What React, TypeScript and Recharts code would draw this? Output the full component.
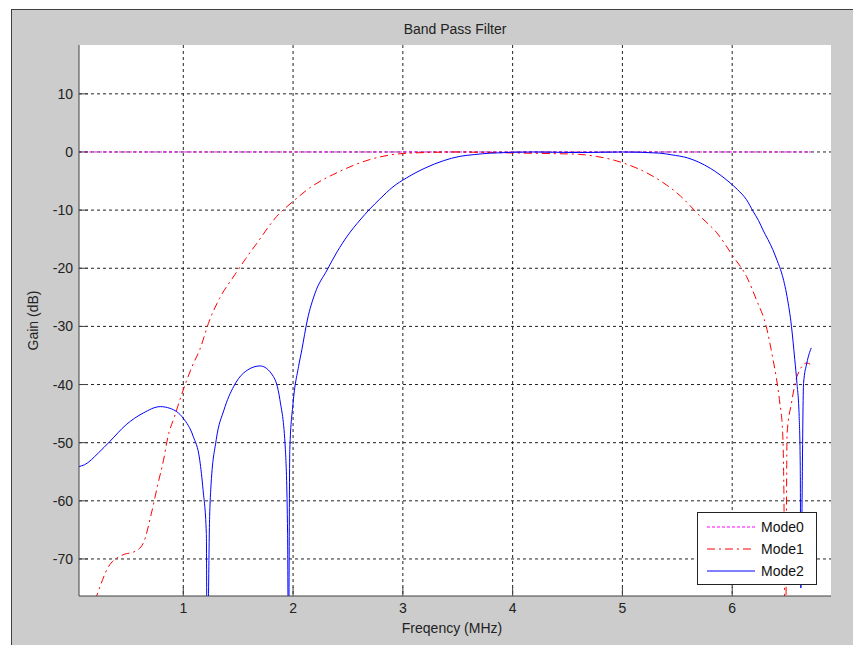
import React from "react";
import {
  LineChart,
  Line,
  XAxis,
  YAxis,
  CartesianGrid,
} from "recharts";

// x ticks (MHz) and y ticks (dB)
const freqTicks = [1, 2, 3, 4, 5, 6];
const gainTicks = [-70, -60, -50, -40, -30, -20, -10, 0, 10];

// Mode0: flat all-pass
const mode0Freq = [0.05, 6.72];
const mode0Gain = [0, 0];

// Mode1: wide band pass, dash-dot red
const mode1Freq = [
  0.05, 0.21, 0.32, 0.45, 0.56, 0.635, 0.71, 0.77, 0.82, 0.86, 0.92, 1.0, 1.08,
  1.15, 1.24, 1.33, 1.47, 1.57, 1.67, 1.85, 2.0, 2.15, 2.43, 2.7, 2.95, 3.2,
  3.5, 3.8, 4.1, 4.4, 4.6, 4.76, 5.01, 5.28, 5.53, 5.71, 5.86, 6.01, 6.13, 6.22,
  6.31, 6.37, 6.4, 6.43, 6.46, 6.47, 6.485, 6.5, 6.54, 6.59, 6.68, 6.71,
];
const mode1Gain = [
  -86, -76.4, -71.3, -69.3, -68.7, -67.3, -62.1, -57, -53, -49, -45.5, -40.9,
  -36.9, -34, -28.9, -25.2, -21.1, -18.3, -15.7, -11.1, -8.5, -6.2, -3.3, -1.3,
  -0.35, -0.1, 0, -0.1, -0.2, -0.3, -0.4, -0.75, -1.9, -4.2, -7.6, -11.1,
  -13.9, -18, -21.4, -25.4, -30, -35.5, -38.6, -42.6, -48.4, -57, -90, -48.4,
  -43.2, -38.6, -36.3, -36.5,
];

// Mode2: narrow band pass with stopband notches, solid blue
const mode2Freq = [
  0.05, 0.1, 0.225, 0.33, 0.48, 0.635, 0.79, 0.88, 1.0, 1.09, 1.15, 1.18, 1.21,
  1.217, 1.24, 1.25, 1.3, 1.37, 1.46, 1.55, 1.7, 1.82, 1.88, 1.93, 1.95, 1.958,
  1.97, 2.0, 2.05, 2.08, 2.13, 2.2, 2.31, 2.4, 2.5, 2.61, 2.7, 2.79, 2.91,
  3.03, 3.21, 3.37, 3.52, 3.65, 3.8, 4.2, 4.6, 5.0, 5.34, 5.45, 5.59, 5.8,
  5.98, 6.05, 6.13, 6.19, 6.24, 6.28, 6.37, 6.41, 6.45, 6.5, 6.54, 6.57, 6.59,
  6.61, 6.62, 6.625, 6.65, 6.68, 6.72,
];
const mode2Gain = [
  -54.1, -53.8, -51.8, -49.8, -46.9, -44.9, -43.8, -44.1, -45.8, -48.9, -53,
  -58.1, -65.6, -90, -62.7, -58.1, -49.5, -44.4, -40.3, -38, -36.8, -38.6,
  -42.6, -51.2, -65.6, -90, -51.2, -43.2, -36.9, -34, -28.9, -24.3, -20.3,
  -17.2, -14.3, -11.7, -9.8, -8.1, -6.0, -4.5, -2.7, -1.5, -0.75, -0.45, -0.2,
  0, -0.1, 0, -0.2, -0.5, -1.0, -2.8, -5.3, -6.5, -8.2, -10.2, -11.8, -13.4,
  -16.8, -18.7, -20.8, -24.9, -30, -35.7, -39.8, -45.5, -54.1, -75, -39.8,
  -36.3, -33.7,
];

const toPoints = (f: number[], g: number[]) =>
  f.map((x, i) => ({ f: x, g: g[i] }));

const series = [
  { name: "Mode0", data: toPoints(mode0Freq, mode0Gain), color: "#ff00ff", dash: "3 2" },
  { name: "Mode1", data: toPoints(mode1Freq, mode1Gain), color: "#ff0000", dash: "8 4 2 4" },
  { name: "Mode2", data: toPoints(mode2Freq, mode2Gain), color: "#0000ff", dash: undefined },
];

const FONT = "'Liberation Sans', Arial, sans-serif";
const tickStyle = { fontSize: 14, fill: "#222", fontFamily: FONT };

function FilterLegend() {
  const rows = [14, 36, 58];
  return (
    <div
      style={{
        position: "absolute",
        left: 697,
        top: 512,
        width: 120,
        height: 73,
        boxSizing: "border-box",
        border: "1px solid #222",
        background: "#fff",
      }}
    >
      <svg width={118} height={71}>
        {series.map((s, i) => (
          <g key={s.name}>
            <line
              x1={9}
              x2={57}
              y1={rows[i]}
              y2={rows[i]}
              stroke={s.color}
              strokeDasharray={s.dash}
            />
            <text
              x={63}
              y={rows[i]}
              dominantBaseline="central"
              fontSize={14}
              fontFamily={FONT}
              fill="#111"
            >
              {s.name}
            </text>
          </g>
        ))}
      </svg>
    </div>
  );
}

export default function App() {
  return (
    <div
      style={{
        position: "absolute",
        left: 0,
        top: 0,
        width: 853,
        height: 645,
        background: "#fff",
        overflow: "hidden",
      }}
    >
      <div
        style={{
          position: "absolute",
          left: 11,
          top: 9,
          width: 842,
          height: 636,
          boxSizing: "border-box",
          background: "#cccccc",
          borderTop: "1px solid #404040",
          borderLeft: "1px solid #404040",
        }}
      />
      <div
        style={{
          position: "absolute",
          left: 79,
          width: 752,
          top: 21,
          textAlign: "center",
          fontFamily: FONT,
          fontSize: 14,
          lineHeight: "16px",
          color: "#222",
        }}
      >
        Band Pass Filter
      </div>
      <div style={{ position: "absolute", left: 0, top: 0 }}>
        <LineChart
          width={853}
          height={645}
          margin={{ top: 45, right: 22, bottom: 19, left: 19 }}
        >
          <CartesianGrid
            fill="#ffffff"
            stroke="#222"
            strokeDasharray="3 3"
            syncWithTicks
          />
          <XAxis
            dataKey="f"
            type="number"
            domain={[0.05, 6.9]}
            ticks={freqTicks}
            allowDataOverflow
            height={30}
            tickSize={-9}
            tickMargin={16}
            tick={tickStyle}
            axisLine={{ stroke: "#404040" }}
            tickLine={{ stroke: "#404040" }}
            label={{
              value: "Freqency (MHz)",
              position: "bottom",
              offset: -3,
              dx: -3,
              style: { fontSize: 14, fill: "#222", fontFamily: FONT },
            }}
          />
          <YAxis
            type="number"
            domain={[-76.37, 18.4]}
            ticks={gainTicks}
            allowDataOverflow
            width={60}
            tickSize={-9}
            tickMargin={15}
            tick={tickStyle}
            axisLine={{ stroke: "#404040" }}
            tickLine={{ stroke: "#404040" }}
            label={{
              value: "Gain (dB)",
              angle: -90,
              position: "insideLeft",
              offset: 14,
              style: { textAnchor: "middle", fontSize: 14, fill: "#222", fontFamily: FONT },
            }}
          />
          {series.map((s) => (
            <Line
              key={s.name}
              data={s.data}
              dataKey="g"
              name={s.name}
              type="monotone"
              stroke={s.color}
              strokeWidth={1}
              strokeDasharray={s.dash}
              dot={false}
              activeDot={false}
              isAnimationActive={false}
            />
          ))}
        </LineChart>
      </div>
      <FilterLegend />
    </div>
  );
}
